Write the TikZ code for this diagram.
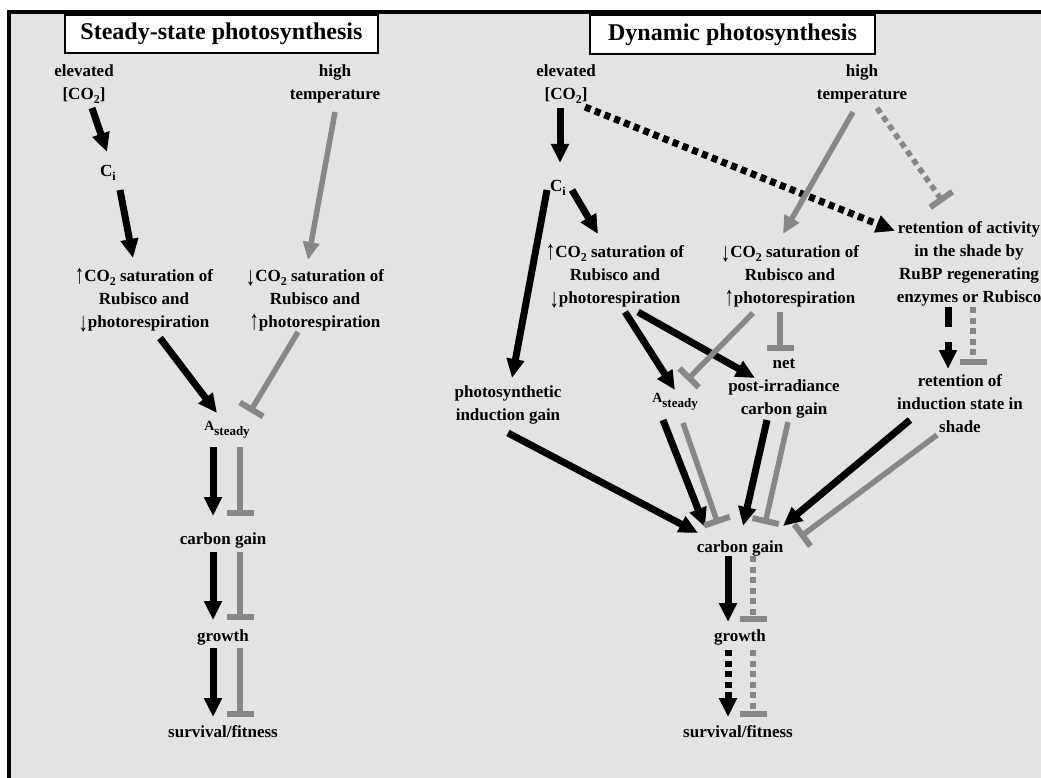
\documentclass[tikz,border=0pt]{standalone}
\usepackage{fontspec}
\setmainfont{Liberation Serif}
\usepackage{graphicx}
\usepackage{tikz}
\usetikzlibrary{positioning,arrows.meta,calc}
\definecolor{PSback}{HTML}{E3E3E3}
\definecolor{PSgrey}{HTML}{878787}
\newcommand{\bodytext}{\fontsize{17}{23}\selectfont\bfseries}
\newcommand{\titletext}{\fontsize{24}{28}\selectfont\bfseries}
\newcommand{\lowsub}[1]{\raisebox{-4pt}{\fontsize{12}{12}\selectfont #1}}
\newcommand{\uparr}{\raisebox{-2pt}{\scalebox{1.1}[1.6]{↑}}}
\newcommand{\dnarr}{\raisebox{-4pt}{\scalebox{1.1}[1.6]{↓}}}
\newcommand{\Asteady}{{\fontsize{14}{16}\selectfont A\raisebox{-5pt}{\fontsize{13}{15}\selectfont steady}}}
\tikzset{
  lbl/.style={font=\bodytext, align=center, inner sep=1pt},
  titlebox/.style={draw=black, fill=white, line width=2.5pt, font=\titletext, inner sep=0pt},
  promote/.style={-{Triangle[length=19pt,width=17pt]}, line width=7pt, draw=black},
  greyarr/.style={-{Triangle[length=18pt,width=16pt]}, line width=5.5pt, draw=PSgrey},
  inhibit/.style={-{Bar[width=27pt,line width=6pt]}, line width=5.5pt, draw=PSgrey},
  dotline/.style={dash pattern=on 6pt off 4.5pt},
  dashline/.style={dash pattern=on 20pt off 15pt}
}

\begin{document}
\begin{tikzpicture}[x=1pt,y=-1pt]
\useasboundingbox (0,0) rectangle (1041,778);
\fill[white] (0,0) rectangle (1041,778);
\fill[PSback] (9,12) rectangle (1041,778);
\draw[line width=4pt] (9,778) -- (9,12) -- (1041,12);

% steady-state panel
\node[titlebox, minimum width=313pt, minimum height=38pt] (stitle) at (221.5,34) {Steady-state photosynthesis};
\node[lbl] (selev) at (84,84) {elevated\\{}[CO\lowsub{2}]};
\node[lbl] (shigh) at (335,84) {high\\temperature};
\node[lbl] (sci) at (108,173) {C\lowsub{i}};
\node[lbl] (srubup) at (144,300) {\uparr CO\lowsub{2} saturation of\\Rubisco and\\\dnarr photorespiration};
\node[lbl] (srubdn) at (315,300) {\dnarr CO\lowsub{2} saturation of\\Rubisco and\\\uparr photorespiration};
\node[lbl] (sast) at (227,430) {\Asteady};
\node[lbl] (sgain) at (223,540) {carbon gain};
\node[lbl] (sgrow) at (223,637) {growth};
\node[lbl] (sfit) at (223,732) {survival/fitness};

\draw[promote] ($(selev)+(8,24)$) -- ($(sci)+(-1,-21)$);
\draw[promote] ($(sci)+(12,17)$) -- ($(srubup)+(-11,-42)$);
\draw[greyarr] ($(shigh)+(0,28)$) -- ($(srubdn)+(-7,-40)$);
\draw[promote] ($(srubup)+(16,38)$) -- ($(sast)+(-10,-17)$);
\draw[inhibit] ($(srubdn)+(-17,32)$) -- ($(sast)+(23,-18)$);
\draw[promote] ($(sast)+(-14,17)$) -- ($(sgain)+(-10,-24)$);
\draw[inhibit] ($(sast)+(13,17)$) -- ($(sgain)+(17,-24)$);
\draw[promote] ($(sgain)+(-10,12)$) -- ($(sgrow)+(-10,-17)$);
\draw[inhibit] ($(sgain)+(17,12)$) -- ($(sgrow)+(17,-17)$);
\draw[promote] ($(sgrow)+(-10,11)$) -- ($(sfit)+(-10,-15)$);
\draw[inhibit] ($(sgrow)+(17,11)$) -- ($(sfit)+(17,-15)$);

% dynamic panel
\node[titlebox, minimum width=285pt, minimum height=39pt] (dtitle) at (732.5,34.5) {Dynamic photosynthesis};
\node[lbl] (delev) at (566,84) {elevated\\{}[CO\lowsub{2}]};
\node[lbl] (dhigh) at (862,84) {high\\temperature};
\node[lbl] (dci) at (558,188) {C\lowsub{i}};
\node[lbl] (drubup) at (615,276) {\uparr CO\lowsub{2} saturation of\\Rubisco and\\\dnarr photorespiration};
\node[lbl] (drubdn) at (790,276) {\dnarr CO\lowsub{2} saturation of\\Rubisco and\\\uparr photorespiration};
\node[lbl] (dretact) at (969,264) {retention of activity\\in the shade by\\RuBP regenerating\\enzymes or Rubisco};
\node[lbl] (dind) at (508,405) {photosynthetic\\induction gain};
\node[lbl] (dast) at (675,402) {\Asteady};
\node[lbl] (dnet) at (784,389) {net\\post-irradiance\\carbon gain};
\node[lbl] (dretind) at (960,404) {retention of\\induction state in\\shade};
\node[lbl] (dgain) at (740,548) {carbon gain};
\node[lbl] (dgrow) at (740,637) {growth};
\node[lbl] (dfit) at (738,732) {survival/fitness};

\draw[promote] ($(delev)+(-6,24)$) -- ($(dci)+(2,-25)$);
\draw[promote, dotline] ($(delev)+(19,23)$) -- ($(dretact)+(-74,-33)$);
\draw[promote] ($(dci)+(14,2)$) -- ($(drubup)+(-17,-42)$);
\draw[promote] ($(dci)+(-11,2)$) -- ($(dind)+(4,-27)$);
\draw[greyarr] ($(dhigh)+(-9,28)$) -- ($(drubdn)+(-7,-42)$);
\draw[inhibit, dotline] ($(dhigh)+(15,24)$) -- ($(dretact)+(-26,-62)$);
\draw[promote] ($(drubup)+(10,36)$) -- ($(dast)+(0,-12)$);
\draw[promote] ($(drubup)+(23,36)$) -- ($(dnet)+(-29,-11)$);
\draw[inhibit] ($(drubdn)+(-37,37)$) -- ($(dast)+(12,-22)$);
\draw[inhibit] ($(drubdn)+(-10,36)$) -- ($(dnet)+(-4,-38)$);
\draw[promote, dashline] ($(dretact)+(-21,43)$) -- ($(dretind)+(-12,-35)$);
\draw[inhibit, dotline] ($(dretact)+(4,43)$) -- ($(dretind)+(13,-39)$);
\draw[promote] ($(dind)+(0,28)$) -- ($(dgain)+(-42,-15)$);
\draw[promote] ($(dast)+(-12,18)$) -- ($(dgain)+(-35,-21)$);
\draw[inhibit] ($(dast)+(8,21)$) -- ($(dgain)+(-22,-24)$);
\draw[promote] ($(dnet)+(-17,31)$) -- ($(dgain)+(3,-22)$);
\draw[inhibit] ($(dnet)+(4,33)$) -- ($(dgain)+(25,-24)$);
\draw[promote] ($(dretind)+(-50,16)$) -- ($(dgain)+(43,-22)$);
\draw[inhibit] ($(dretind)+(-23,31)$) -- ($(dgain)+(60,-11)$);
\draw[promote] ($(dgain)+(-12,8)$) -- ($(dgrow)+(-12,-15)$);
\draw[inhibit, dotline] ($(dgain)+(13,8)$) -- ($(dgrow)+(13,-15)$);
\draw[promote, dotline] ($(dgrow)+(-12,13)$) -- ($(dfit)+(-10,-15)$);
\draw[inhibit, dotline] ($(dgrow)+(13,13)$) -- ($(dfit)+(15,-15)$);
\end{tikzpicture}
\end{document}
